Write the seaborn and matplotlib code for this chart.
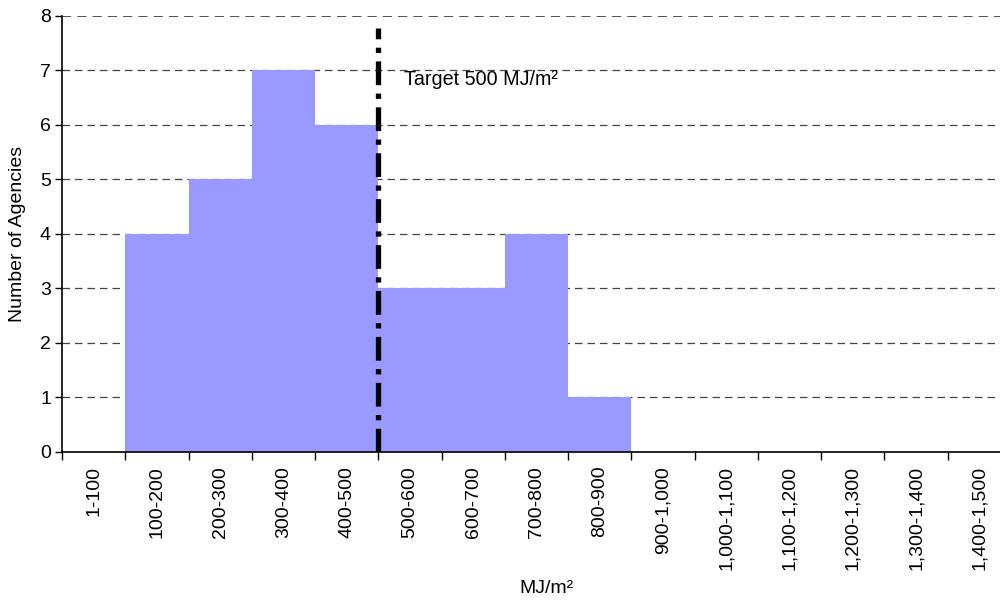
import matplotlib
matplotlib.use("Agg")
import matplotlib.pyplot as plt
import numpy as np
import pandas as pd
import seaborn as sns

# Energy-use bins (MJ/m²) and the number of agencies falling in each
bins = ["1-100", "100-200", "200-300", "300-400", "400-500", "500-600",
        "600-700", "700-800", "800-900", "900-1,000", "1,000-1,100",
        "1,100-1,200", "1,200-1,300", "1,300-1,400", "1,400-1,500"]
agencies = [0, 4, 5, 7, 6, 3, 3, 4, 1, 0, 0, 0, 0, 0, 0]
target_label = "Target 500 MJ/m²"
target_bin_edge = 4.5  # boundary between 400-500 and 500-600

df = pd.DataFrame({"bin": bins, "agencies": agencies})

sns.set_theme(style="white")
plt.rcParams["font.family"] = ["Liberation Sans", "DejaVu Sans"]
plt.rcParams.update({"text.color": "black", "axes.labelcolor": "black",
                     "xtick.color": "black", "ytick.color": "black"})

fig = plt.figure(figsize=(10, 6.01), dpi=100)
ax = fig.add_axes([0.062, 0.248, 0.949, 0.7255])

sns.barplot(data=df, x="bin", y="agencies", color="#9999FF",
            saturation=1, width=1.0, linewidth=0, ax=ax, zorder=2)

ax.set_ylim(0, 8)
ax.set_xlim(-0.5, len(bins) - 0.5)
ax.set_yticks(range(0, 9))

# dashed horizontal gridlines
for y in range(1, 9):
    ax.axhline(y, color="#222222" if y == 8 else "#444444",
               linestyle=(0, (6, 4)), linewidth=1.1 if y == 8 else 0.9,
               zorder=1)

# target line
ax.plot([target_bin_edge, target_bin_edge], [0, 7.78], color="black",
        linewidth=3.8, linestyle=(0, (4.5, 1.6, 1, 1.6)), zorder=3)
ax.text(target_bin_edge + 0.4, 6.83, target_label, fontsize=14.2,
        color="black", va="center", ha="left", zorder=4)

# tick labels at bin centres, tick marks at bin boundaries
ax.set_xticks(np.arange(len(bins)))
ax.set_xticklabels(bins, rotation=90, fontsize=14, color="black")
ax.set_xticks(np.arange(len(bins) + 1) - 0.5, minor=True)
ax.tick_params(axis="x", which="major", length=0, pad=10)
ax.tick_params(axis="x", which="minor", length=6, width=1, color="black",
               direction="out", bottom=True)
ax.tick_params(axis="y", length=5, width=1, color="black", direction="out",
               left=True, labelsize=14, labelcolor="black", pad=3)

for side in ["top", "right"]:
    ax.spines[side].set_visible(False)
for side in ["left", "bottom"]:
    ax.spines[side].set_color("black")
    ax.spines[side].set_linewidth(1.2)
    ax.spines[side].set_zorder(5)

ax.set_xlabel("MJ/m²", fontsize=14, color="black")
ax.set_ylabel("Number of Agencies", fontsize=14, color="black", labelpad=10)
ax.xaxis.set_label_coords((546 - 62) / 949, -0.293)

fig.savefig("out.png", dpi=100)
